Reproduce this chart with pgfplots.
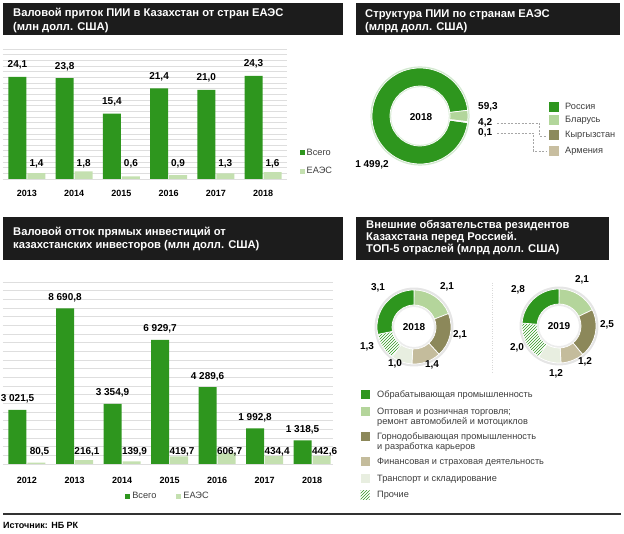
\documentclass[border=0pt]{standalone}
\usepackage{fontspec}
\setmainfont{Liberation Sans}
\usepackage{pgfplots}
\usepackage{pgfplotstable}
\pgfplotsset{compat=1.18}
\usetikzlibrary{patterns}

\definecolor{gdark}{RGB}{46,150,30}
\definecolor{glight}{RGB}{196,224,176}
\definecolor{titlebg}{RGB}{28,28,28}
\definecolor{gridc}{RGB}{222,222,222}
\definecolor{bel}{RGB}{178,214,155}
\definecolor{kyr}{RGB}{140,138,92}
\definecolor{arm}{RGB}{200,190,160}
\definecolor{opt}{RGB}{180,213,155}
\definecolor{gorn}{RGB}{140,136,90}
\definecolor{fin}{RGB}{196,188,156}
\definecolor{trn}{RGB}{232,238,224}
\definecolor{txt}{RGB}{60,60,60}

\newcommand{\tfont}{\bfseries\fontsize{11.2}{12}\selectfont}
\newcommand{\vfont}{\bfseries\fontsize{10}{12}\selectfont}
\newcommand{\lfont}{\fontsize{9.2}{10}\selectfont}

\pgfkeys{/pgf/number format/assume math mode=true}

\tikzset{
  seg/.style={draw=white, line width=0.7pt},
  sRus/.style={seg, fill=gdark}, sBel/.style={seg, fill=bel},
  sKyr/.style={seg, fill=kyr}, sArm/.style={seg, fill=arm},
  sObr/.style={seg, fill=gdark}, sOpt/.style={seg, fill=opt},
  sGor/.style={seg, fill=gorn}, sFin/.style={seg, fill=fin},
  sTrn/.style={seg, fill=trn},
  sPro/.style={seg, pattern=north east lines, pattern color=gdark},
}

% donut inside a hidden axis (1 unit = 1pt): outer r, inner r, start angle, value/style list
\newcommand{\donut}[4]{%
  \gdef\dsum{0}%
  \foreach \v/\s in {#4}{\pgfmathparse{\dsum+\v}\xdef\dsum{\pgfmathresult}}%
  \xdef\dang{#3}%
  \foreach \v/\s in {#4}{%
    \pgfmathsetmacro\dend{\dang-360*(\v/\dsum)}%
    \path[\s] (axis cs:{#1*cos(\dang)},{#1*sin(\dang)})
      arc[start angle=\dang, end angle=\dend, radius=#1pt]
      -- (axis cs:{#2*cos(\dend)},{#2*sin(\dend)})
      arc[start angle=\dend, end angle=\dang, radius=#2pt] -- cycle;
    \xdef\dang{\dend}%
  }%
}

\pgfplotsset{
  sqlegend/.style={legend image code/.code={\fill[##1] (0pt,-2.5pt) rectangle (5pt,2.5pt);}},
  vlabel/.style={
    nodes near coords={\pgfmathprintnumber[fixed, fixed zerofill, precision=1, use comma, 1000 sep={\ }]{\pgfplotspointmeta}},
    nodes near coords style={font=\vfont, inner sep=0pt, text=black}},
  barchart/.style={
    scale only axis, anchor=south west, ybar, bar width=18pt, ymin=0,
    scaled y ticks=false,
    ymajorgrids, grid style={gridc, line width=0.5pt},
    axis line style={draw=none}, tick style={draw=none}, yticklabel=\empty,
    xticklabel style={font=\bfseries\fontsize{9}{9}\selectfont, anchor=base},
    vlabel},
  donutax/.style={hide axis, scale only axis, anchor=center, clip=false,
    xmin=-#1, xmax=#1, ymin=-#1, ymax=#1, width=2*#1 pt, height=2*#1 pt},
}

\pgfplotstableread{
i year vsego eaes
0 2013 24.1 1.4
1 2014 23.8 1.8
2 2015 15.4 0.6
3 2016 21.4 0.9
4 2017 21.0 1.3
5 2018 24.3 1.6
}\inflow

\pgfplotstableread{
i year vsego eaes
0 2012 3021.5 80.5
1 2013 8690.8 216.1
2 2014 3354.9 139.9
3 2015 6929.7 419.7
4 2016 4289.6 606.7
5 2017 1992.8 434.4
6 2018 1318.5 442.6
}\outflow

\begin{document}
\begin{tikzpicture}[x=1pt, y=1pt]
\path[use as bounding box] (0,0) rectangle (624,533);

% title boxes
\fill[titlebg] (3,498) rectangle (343,530);
\fill[titlebg] (356,498) rectangle (620,530);
\fill[titlebg] (3,273) rectangle (343,316);
\fill[titlebg] (356,273) rectangle (609,316);
\begin{scope}[every node/.style={anchor=base west, inner sep=0pt, text=white, font=\tfont}]
\node at (13,516.3) {Валовой приток ПИИ в Казахстан от стран ЕАЭС};
\node at (13,502.3) {(млн долл. США)};
\node at (365,515.3) {Структура ПИИ по странам ЕАЭС};
\node at (365,502.3) {(млрд долл. США)};
\node at (13,297.3) {Валовой отток прямых инвестиций от};
\node at (13,284.3) {казахстанских инвесторов (млн долл. США)};
\node at (366,304.3) {Внешние обязательства резидентов};
\node at (366,292.3) {Казахстана перед Россией.};
\node at (366,280.8) {ТОП-5 отраслей (млрд долл. США)};
\end{scope}

% chart 1: inflow
\begin{axis}[barchart, at={(3pt,354pt)}, width=284pt, height=130pt,
  xmin=-0.508, xmax=5.508, ymax=30.67, ytick distance=1.3335,
  xtick={0,...,5}, xticklabels={2013,2014,2015,2016,2017,2018},
  xticklabel style={yshift=-13pt},
  legend style={at={(axis description cs:1.044,0.25)}, anchor=north west,
    draw=none, fill=none, inner sep=0pt, font=\lfont, text=txt,
    row sep=7pt, cells={anchor=west}},
]
\addplot[fill=gdark, draw=none, forget plot, bar shift=-9.5pt,
  every node near coord/.append style={yshift=7.3pt}]
  table[x=i, y=vsego] {\inflow};
\addplot[fill=glight, draw=none, forget plot, bar shift=9.5pt,
  visualization depends on={rawy \as \ry},
  every node near coord/.append style={yshift={10.3pt-\ry*4.2387pt}}]
  table[x=i, y=eaes] {\inflow};
\addlegendimage{fill=gdark, draw=none, sqlegend}
\addlegendimage{fill=glight, draw=none, sqlegend}
\legend{Всего, ЕАЭС}
\draw[gray!80, line width=0.9pt] (rel axis cs:0,0) -- (rel axis cs:1,0);
\end{axis}

% chart 3: outflow
\begin{axis}[barchart, at={(3pt,69pt)}, width=330pt, height=182pt,
  xmin=-0.505, xmax=6.44, ymax=10160, ytick distance=483.8,
  xtick={0,...,6}, xticklabels={2012,2013,2014,2015,2016,2017,2018},
  xticklabel style={yshift=-15.3pt},
  legend style={at={(axis description cs:0.5,-0.176)}, anchor=center,
    legend columns=2, draw=none, fill=none, inner sep=0pt, font=\lfont, text=txt,
    /tikz/every even column/.append style={column sep=18pt}},
]
\addplot[fill=gdark, draw=none, forget plot, bar shift=-9.5pt,
  every node near coord/.append style={yshift=6.3pt}]
  table[x=i, y=vsego] {\outflow};
\addplot[fill=glight, draw=none, forget plot, bar shift=9.5pt,
  visualization depends on={rawy \as \ry},
  every node near coord/.append style={xshift=3pt, yshift={7.8pt-\ry*0.017913pt}}]
  table[x=i, y=eaes] {\outflow};
\addlegendimage{fill=gdark, draw=none, sqlegend}
\addlegendimage{fill=glight, draw=none, sqlegend}
\legend{Всего, ЕАЭС}
\draw[gray!80, line width=0.9pt] (rel axis cs:0,0) -- (rel axis cs:1,0);
\end{axis}

% donut: structure by EAEU country
\begin{axis}[donutax=50, at={(420pt,417pt)}]
\pgfplotsextra{
  \draw[gdark!22, line width=1.6pt] (axis cs:0,0) circle[radius=48.8pt];
  \draw[gdark!18, line width=1.2pt] (axis cs:0,0) circle[radius=29.4pt];
  \donut{48}{30}{352.18}{1499.2/sRus, 59.3/sBel, 4.2/sKyr, 0.1/sArm}
}
\end{axis}
\node[font=\vfont] at (421,416) {2018};
\begin{scope}[every node/.style={anchor=west, inner sep=0pt, font=\vfont}]
\node at (478,426) {59,3};
\node at (478,410) {4,2};
\node at (478,400) {0,1};
\end{scope}
\node[font=\vfont] at (372,368) {1\ 499,2};
\draw[gray!70, dash pattern=on 2pt off 1.5pt] (497,410) -- (539,410) -- (539,397) -- (547,397);
\draw[gray!70, dash pattern=on 2pt off 1.5pt] (497,400) -- (533,400) -- (533,382) -- (547,382);
\fill[gdark] (549,421) rectangle (559,431);
\fill[bel]   (549,408) rectangle (559,418);
\fill[kyr]   (549,393) rectangle (559,403);
\fill[arm]   (549,377) rectangle (559,387);
\begin{scope}[every node/.style={anchor=base west, inner sep=0pt, font=\lfont, text=txt}]
\node at (565,423) {Россия};
\node at (565,410) {Бларусь};
\node at (565,395) {Кыргызстан};
\node at (565,379) {Армения};
\end{scope}

% donuts: liabilities to Russia
\begin{axis}[donutax=42, at={(414pt,206pt)}]
\pgfplotsextra{
  \draw[gray!20, line width=2.5pt] (axis cs:0,0) circle[radius=38.2pt];
  \draw[gray!15, line width=2pt] (axis cs:0,0) circle[radius=21pt];
  \donut{37}{22}{90}{2.1/sOpt, 2.1/sGor, 1.4/sFin, 1.0/sTrn, 1.3/sPro, 3.1/sObr}
}
\end{axis}
\begin{axis}[donutax=42, at={(559pt,207pt)}]
\pgfplotsextra{
  \draw[gray!20, line width=2.5pt] (axis cs:0,0) circle[radius=38.2pt];
  \draw[gray!15, line width=2pt] (axis cs:0,0) circle[radius=21pt];
  \donut{37}{22}{90}{2.1/sOpt, 2.5/sGor, 1.2/sFin, 1.2/sTrn, 2.0/sPro, 2.8/sObr}
}
\end{axis}
\draw[gray!30, dotted] (492,250) -- (492,161);
\begin{scope}[every node/.style={inner sep=0pt, font=\vfont}]
\node at (414,206) {2018};
\node at (378,245) {3,1};
\node at (447,246) {2,1};
\node at (460,198) {2,1};
\node at (432,168) {1,4};
\node at (395,169) {1,0};
\node at (367,186) {1,3};
\node at (559,207) {2019};
\node at (518,243) {2,8};
\node at (582,253) {2,1};
\node at (607,208) {2,5};
\node at (585,171) {1,2};
\node at (556,159) {1,2};
\node at (517,185) {2,0};
\end{scope}

% legend of industries
\fill[gdark] (360.5,133.5) rectangle (369.5,142.5);
\fill[opt]   (360.5,116.5) rectangle (369.5,125.5);
\fill[gorn]  (360.5,91.5)  rectangle (369.5,100.5);
\fill[fin]   (360.5,66.5)  rectangle (369.5,75.5);
\fill[trn]   (360.5,49.5)  rectangle (369.5,58.5);
\fill[pattern=north east lines, pattern color=gdark] (360.5,33.5) rectangle (369.5,42.5);
\begin{scope}[every node/.style={anchor=base west, inner sep=0pt, font=\lfont, text=txt}]
\node at (377,135) {Обрабатывающая промышленность};
\node at (377,118) {Оптовая и розничная торговля;};
\node at (377,108) {ремонт автомобилей и мотоциклов};
\node at (377,93)  {Горнодобывающая промышленность};
\node at (377,83)  {и разработка карьеров};
\node at (377,68)  {Финансовая и страховая деятельность};
\node at (377,51)  {Транспорт и складирование};
\node at (377,35)  {Прочие};
\end{scope}

% source
\draw[line width=2pt, black!80] (3,19) -- (621,19);
\node[anchor=base west, inner sep=0pt, font=\bfseries\fontsize{9}{10}\selectfont] at (3,5) {Источник: НБ РК};
\end{tikzpicture}
\end{document}
